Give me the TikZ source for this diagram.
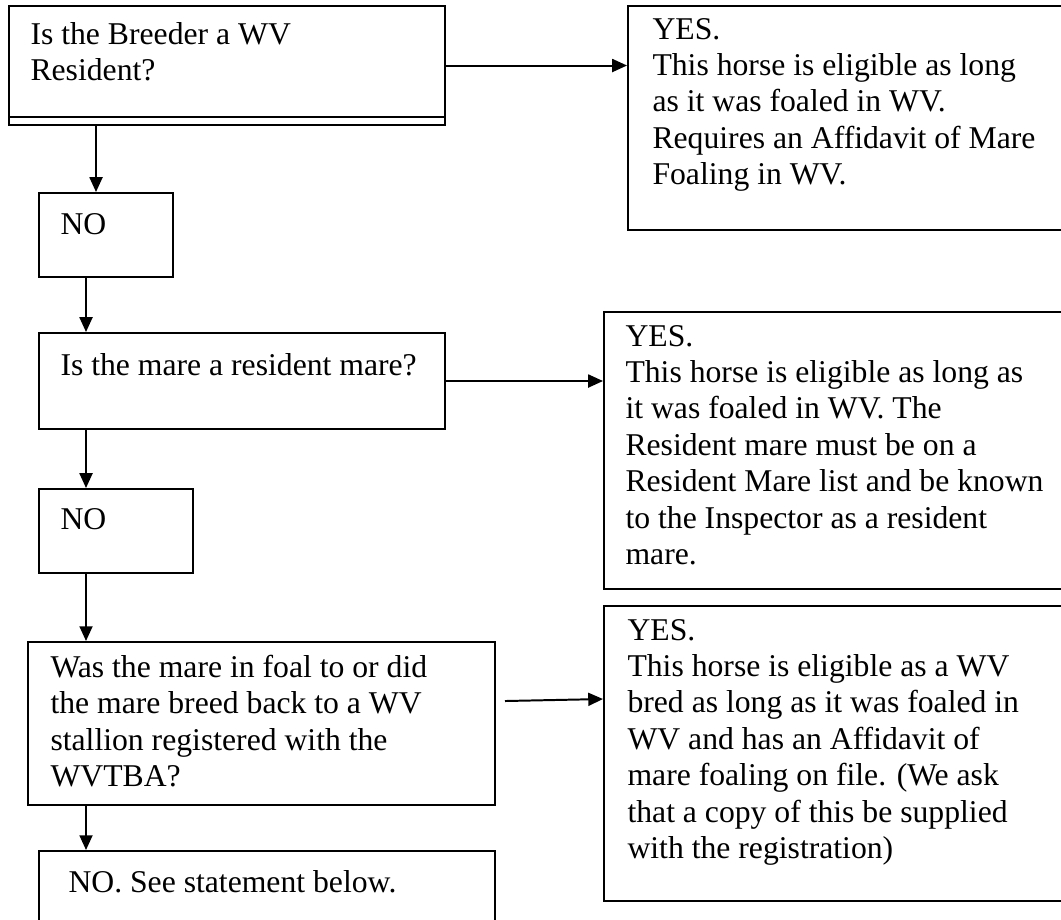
\documentclass[tikz,border=0pt]{standalone}
\usepackage{fontspec}
\setmainfont{Liberation Serif}
\usepackage{tikz}
\usetikzlibrary{positioning}
\usetikzlibrary{calc}
\usetikzlibrary{fit}
\usetikzlibrary{arrows.meta}

\begin{document}
\begin{tikzpicture}[x=0.3788pt, y=-0.3788pt,
  box/.style={draw, line width=0.75pt, inner sep=0pt},
  txt/.style={anchor=north west, inner sep=0pt, align=left,
    font=\fontsize{12pt}{13.8pt}\selectfont, execute at begin node={\strut}},
  arr/.style={-{Triangle[length=5.6pt,width=4.9pt]}, line width=0.75pt}]
\useasboundingbox (0,0) rectangle (1061,919);

% left column
\node[box, fit={(9,6) (445,125)}] (b1) {};
\draw[line width=0.75pt] ($(b1.south west)+(0,-9)$) -- ($(b1.south east)+(0,-9)$);
\node[box, fit={(39,193) (173,277)}] (n1) {};
\node[box, fit={(39,333) (445,429)}] (b2) {};
\node[box, fit={(39,489) (193,573)}] (n2) {};
\node[box, fit={(28,642) (495,805)}] (b3) {};
\node[box, fit={(39,851) (495,930)}] (n3) {};

% right column
\node[box, fit={(628,6) (1070,230)}] (y1) {};
\node[box, fit={(604,312) (1070,589)}] (y2) {};
\node[box, fit={(604,606) (1070,901)}] (y3) {};

% texts
\node[txt] (b1t) at (30,21.5) {Is the Breeder a WV\\Resident?};
\node[txt] (n1t) at (60,208.5) {NO};
\node[txt] (b2t) at (60,349.5) {Is the mare a resident mare?};
\node[txt] (n2t) at (60,503.5) {NO};
\node[txt] (b3t) at (50,654.5) {Was the mare in foal to or did\\the mare breed back to a WV\\stallion registered with the\\WVTBA?};
\node[txt] (n3t) at (68,866.5) {NO. See statement below.};

\node[txt] (y1t) at (652,17.5) {YES.\\This horse is eligible as long\\as it was foaled in WV.\\Requires an Affidavit of Mare\\Foaling in WV.};
\node[txt] (y2t) at (625,324.5) {YES.\\This horse is eligible as long as\\it was foaled in WV. The\\Resident mare must be on a\\Resident Mare list and be known\\to the Inspector as a resident\\mare.};
\node[txt] (y3t) at (627,618.5) {YES.\\This horse is eligible as a WV\\bred as long as it was foaled in\\WV and has an Affidavit of\\mare foaling on file. (We ask\\that a copy of this be supplied\\with the registration)};

% arrows
\draw[arr] (b1.east) -- (b1.east -| y1.west);
\draw[arr] ($(b1.south west)+(88,0)$) -- ($(n1.north west)+(58,0)$);
\draw[arr] ($(n1.south west)+(48,0)$) -- ($(b2.north west)+(48,0)$);
\draw[arr] (b2.east) -- (b2.east -| y2.west);
\draw[arr] ($(b2.south west)+(48,0)$) -- ($(n2.north west)+(48,0)$);
\draw[arr] ($(n2.south west)+(48,0)$) -- ($(b3.north west)+(59,0)$);
\draw[arr] ($(b3.south west)+(59,0)$) -- ($(n3.north west)+(48,0)$);
\draw[arr] ($(b3.east)+(9,-22.5)$) -- ($(y3.west)+(0,-54.5)$);

\end{tikzpicture}
\end{document}
